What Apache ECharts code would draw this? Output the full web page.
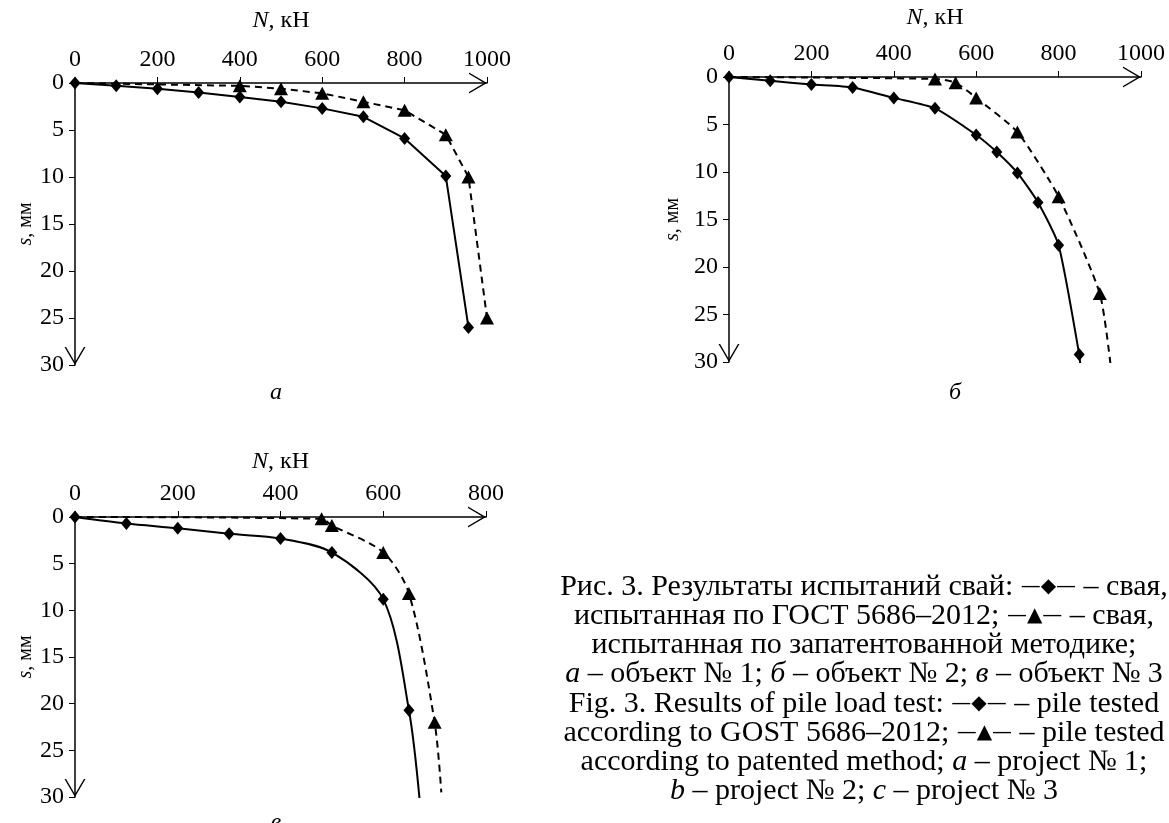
<!DOCTYPE html>
<html>
<head>
<meta charset="utf-8">
<title>Результаты испытаний свай</title>
<script src="https://cdn.jsdelivr.net/npm/echarts@6/dist/echarts.min.js"></script>
<style>
  html, body { margin: 0; padding: 0; background: #fff; }
  #main { width: 1169px; height: 823px; }
</style>
</head>
<body>
<div id="main"></div>
<script>
// объект № 1 (a): N, кН и s, мм
var nGost1 = [0, 100, 200, 300, 400, 500, 600, 700, 800, 900, 955];
var sGost1 = [0, 0.3, 0.6, 1.0, 1.5, 2.0, 2.7, 3.6, 5.9, 9.9, 26];
var nPat1 = [0, 400, 500, 600, 700, 800, 900, 955, 1000];
var sPat1 = [0, 0.3, 0.6, 1.1, 2.0, 2.9, 5.5, 10, 25];
// объект № 2 (б)
var nGost2 = [0, 100, 200, 300, 400, 500, 600, 650, 700, 750, 800, 850];
var sGost2 = [0, 0.4, 0.8, 1.1, 2.2, 3.3, 6.1, 7.9, 10.1, 13.2, 17.7, 29.2];
var nPat2 = [0, 500, 550, 600, 700, 800, 900];
var sPat2 = [0, 0.2, 0.6, 2.2, 5.8, 12.6, 22.8];
// объект № 3 (в)
var nGost3 = [0, 100, 200, 300, 400, 500, 600, 650];
var sGost3 = [0, 0.7, 1.2, 1.8, 2.3, 3.8, 8.8, 20.7];
var nPat3 = [0, 480, 500, 600, 650, 700];
var sPat3 = [0, 0.2, 0.9, 3.8, 8.2, 22];
// концы кривых без маркеров (уходят за 30 мм)
var tailGost2 = [854, 31];
var tailPat2 = [928, 31];
var tailGost3 = [672, 31];
var tailPat3 = [713, 29.5];

var xMax = [1000, 1000, 800];
var yTicks = [0, 5, 10, 15, 20, 25, 30];

var SERIF = '"Liberation Serif", "Times New Roman", serif';
var ARROW = 'path://M0,18 L10.5,0 L21,18 L19.4,18 L10.5,2.8 L1.6,18 Z';

var chart = echarts.init(document.getElementById('main'));

function pts(ns, ss, tail, hideFirst) {
    var d = ns.map(function (n, i) {
        if (hideFirst && i === 0) return { value: [n, ss[i]], symbol: 'none' };
        return [n, ss[i]];
    });
    if (tail) d.push({ value: tail, symbol: 'none' });
    return d;
}

function xAx(k, gap) {
    return {
        gridIndex: k, type: 'value', position: 'top',
        min: 0, max: xMax[k], interval: 200,
        name: '{i|N}, кН', nameLocation: 'middle', nameGap: gap,
        nameTextStyle: {
            color: '#000', fontFamily: SERIF, fontSize: 24,
            rich: { i: { fontStyle: 'italic', fontFamily: SERIF, fontSize: 24, color: '#000' } }
        },
        axisLine: {
            onZero: false,
            lineStyle: { color: '#000', width: 1.5 },
            symbol: ['none', ARROW], symbolSize: [21, 18], symbolOffset: [0, -9]
        },
        axisTick: { length: 6, lineStyle: { color: '#000', width: 1 } },
        axisLabel: {
            color: '#000', fontFamily: SERIF, fontSize: 24, margin: 11,
            formatter: function (v) { return String(v); }
        },
        splitLine: { show: false }
    };
}

function yAx(k, gap) {
    return {
        gridIndex: k, type: 'value', inverse: true,
        min: yTicks[0], max: yTicks[yTicks.length - 1], interval: 5,
        name: '{i|s}, мм', nameLocation: 'middle', nameGap: gap,
        nameTextStyle: {
            color: '#000', fontFamily: SERIF, fontSize: 20,
            rich: { i: { fontStyle: 'italic', fontFamily: SERIF, fontSize: 20, color: '#000' } }
        },
        axisLine: {
            onZero: false,
            lineStyle: { color: '#000', width: 1.5 },
            symbol: [ARROW, 'none'], symbolSize: [21, 18], symbolOffset: [9, 0]
        },
        axisTick: { length: 6, lineStyle: { color: '#000', width: 1 } },
        axisLabel: { color: '#000', fontFamily: SERIF, fontSize: 24, margin: 11 },
        splitLine: { show: false }
    };
}

function gost(k, data, smooth) {
    return {
        type: 'line', xAxisIndex: k, yAxisIndex: k, data: data,
        symbol: 'diamond', symbolSize: [11, 13], smooth: smooth,
        lineStyle: { color: '#000', width: 2 },
        itemStyle: { color: '#000' }, z: 4
    };
}

function pat(k, data, smooth) {
    return {
        type: 'line', xAxisIndex: k, yAxisIndex: k, data: data,
        symbol: 'triangle', symbolSize: [14, 13], smooth: smooth,
        lineStyle: { color: '#000', width: 2, type: [7, 5] },
        itemStyle: { color: '#000' }, z: 3
    };
}

var mk = { fontFamily: '"DejaVu Sans"', fontSize: 20, color: '#000' };
var it = { fontFamily: SERIF, fontSize: 30, fontStyle: 'italic', color: '#000' };
var caption = [
    'Рис. 3. Результаты испытаний свай: {mk|—◆—} – свая,',
    'испытанная по ГОСТ 5686–2012; {mk|—▲—} – свая,',
    'испытанная по запатентованной методике;',
    '{i|а} – объект № 1; {i|б} – объект № 2; {i|в} – объект № 3',
    'Fig. 3. Results of pile load test: {mk|—◆—} – pile tested',
    'according to GOST 5686–2012; {mk|—▲—} – pile tested',
    'according to patented method; {i|a} – project № 1;',
    '{i|b} – project № 2; {i|c} – project № 3'
];

var graphics = caption.map(function (line, i) {
    return {
        type: 'text', x: 864, y: 587 + i * 29.2,
        style: {
            text: line, align: 'center', verticalAlign: 'middle',
            fontFamily: SERIF, fontSize: 30, fill: '#000',
            rich: { mk: mk, i: it }
        }
    };
});

[['а', 276, 393], ['б', 955, 393], ['в', 276, 823]].forEach(function (p) {
    graphics.push({
        type: 'text', x: p[1], y: p[2],
        style: {
            text: p[0], align: 'center', verticalAlign: 'middle',
            fontFamily: SERIF, fontSize: 24, fontStyle: 'italic', fill: '#000'
        }
    });
});

var option = {
    backgroundColor: '#fff',
    animation: false,
    grid: [
        { left: 75, top: 83, width: 412, height: 282 },
        { left: 729, top: 77, width: 412, height: 285 },
        { left: 75, top: 517, width: 411, height: 280 }
    ],
    xAxis: [xAx(0, 50), xAx(1, 47), xAx(2, 43)],
    yAxis: [yAx(0, 37), yAx(1, 46), yAx(2, 37)],
    series: [
        gost(0, pts(nGost1, sGost1), false),
        pat(0, pts(nPat1, sPat1, null, true), false),
        gost(1, pts(nGost2, sGost2, tailGost2), 0.2),
        pat(1, pts(nPat2, sPat2, tailPat2, true), 0.2),
        gost(2, pts(nGost3, sGost3, tailGost3), 0.3),
        pat(2, pts(nPat3, sPat3, tailPat3, true), 0.3)
    ],
    graphic: graphics
};

chart.setOption(option);
</script>
</body>
</html>
